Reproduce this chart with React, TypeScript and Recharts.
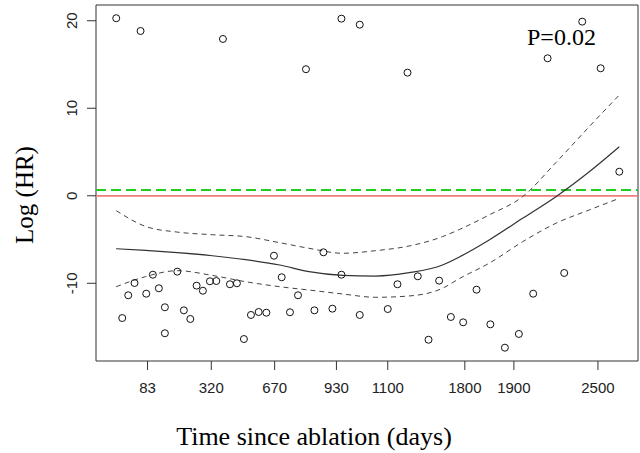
import {
  ComposedChart,
  Line,
  ReferenceArea,
  ReferenceLine,
  Scatter,
  XAxis,
  YAxis,
} from 'recharts';

// x is the transformed time scale (0-100), ticks labelled in days
const tickPos = [9.51, 21.27, 32.96, 44.36, 53.83, 68.05, 77.1, 92.61];
const tickLabels = ['83', '320', '670', '930', '1100', '1800', '1900', '2500'];
const yTicks = [-10, 0, 10, 20];

const residX = [
  3.73, 4.84, 5.95, 7.11, 8.22, 9.27, 10.49, 11.6, 12.71, 12.71, 15.0, 16.21, 17.4, 18.56,
  19.72, 21.02, 22.2, 23.42, 24.71, 26.0, 27.29, 28.59, 30.01, 31.43, 32.83, 34.26, 35.79,
  37.27, 38.74, 40.3, 41.96, 43.62, 45.28, 45.28, 48.66, 48.66, 53.83, 55.62, 57.47, 59.37,
  61.35, 63.31, 65.47, 67.74, 70.21, 72.76, 75.44, 78.02, 80.66, 83.32, 86.39, 89.71, 93.11,
  96.55,
];
const residY = [
  20.29, -13.97, -11.37, -9.97, 18.83, -11.19, -9.02, -10.57, -12.74, -15.71, -8.67, -13.09,
  -14.08, -10.27, -10.85, -9.77, -9.74, 17.92, -10.11, -10.0, -16.37, -13.62, -13.28, -13.36,
  -6.85, -9.31, -13.31, -11.37, 14.46, -13.09, -6.46, -12.9, 20.24, -9.02, 19.55, -13.62,
  -12.94, -10.11, 14.07, -9.2, -16.45, -9.7, -13.85, -14.46, -10.73, -14.69, -17.36, -15.79,
  -11.19, 15.71, -8.82, 19.9, 14.57, 2.75,
];

const curveX = [
  3.73, 9.14, 15.0, 21.46, 27.61, 33.89, 39.3, 45.47, 51.62, 57.77, 63.93, 67.13, 72.54, 78.71,
  84.86, 91.01, 96.55,
];
const fitY = [
  -6.05, -6.25, -6.5, -6.85, -7.3, -7.91, -8.67, -9.09, -9.17, -8.79, -7.91, -6.96, -5.05, -2.57,
  -0.1, 2.75, 5.61,
];
const upperY = [
  -1.7, -3.5, -4.15, -4.45, -4.67, -5.36, -6.0, -6.57, -6.27, -5.74, -4.67, -3.83, -2.19, -0.1,
  3.8, 7.9, 11.52,
];
const lowerY = [
  -10.39, -9.24, -8.56, -9.1, -9.82, -10.39, -10.77, -11.22, -11.6, -11.45, -10.57, -9.43, -7.71,
  -5.25, -3.14, -1.62, -0.29,
];

const refLineY = 0;
const avgLineY = 0.66;
const xDomain: [number, number] = [0, 100];
const yDomain: [number, number] = [-18.88, 21.8];

const residData = residX.map((x, i) => ({ x, y: residY[i] }));
const curveData = curveX.map((x, i) => ({ x, fit: fitY[i], upper: upperY[i], lower: lowerY[i] }));

const SANS = '"Liberation Sans", Arial, sans-serif';
const SERIF = '"Liberation Serif", "Times New Roman", serif';

function XTick({ x, y, payload }: any) {
  const i = tickPos.indexOf(payload.value);
  return (
    <text x={x} y={y + 23} textAnchor="middle" fontFamily={SANS} fontSize={15} fill="#222">
      {i >= 0 ? tickLabels[i] : payload.value}
    </text>
  );
}

function YTick({ x, y, payload }: any) {
  return (
    <text
      x={x}
      y={y}
      transform={`rotate(-90 ${x} ${y})`}
      textAnchor="middle"
      fontFamily={SANS}
      fontSize={15}
      fill="#222"
    >
      {payload.value}
    </text>
  );
}

function Ring({ cx, cy }: any) {
  return <circle cx={cx} cy={cy} r={3.5} fill="none" stroke="#111" strokeWidth={1} />;
}

export default function App() {
  return (
    <div style={{ position: 'absolute', left: 0, top: 0, width: 640, height: 453, background: '#fff' }}>
      <ComposedChart width={640} height={453} margin={{ top: 5, right: 2, left: 0, bottom: 0 }}>
        <XAxis
          dataKey="x"
          type="number"
          domain={xDomain}
          ticks={tickPos}
          tick={<XTick />}
          tickSize={9}
          tickMargin={0}
          height={92}
          axisLine={false}
          tickLine={{ stroke: '#333' }}
          allowDataOverflow
        />
        <YAxis
          type="number"
          domain={yDomain}
          ticks={yTicks}
          tick={<YTick />}
          tickSize={9}
          tickMargin={10}
          width={96}
          axisLine={false}
          tickLine={{ stroke: '#333' }}
          allowDataOverflow
        />
        <ReferenceArea
          x1={xDomain[0]}
          x2={xDomain[1]}
          y1={yDomain[0]}
          y2={yDomain[1]}
          fill="none"
          stroke="#333"
          strokeWidth={1}
        />
        <ReferenceLine y={refLineY} stroke="#f27c7c" strokeWidth={1.8} />
        <ReferenceLine y={avgLineY} stroke="#22cc22" strokeWidth={2} strokeDasharray="10 5" />
        <Line
          data={curveData}
          dataKey="upper"
          type="monotone"
          stroke="#444"
          strokeDasharray="5 4"
          strokeWidth={1}
          dot={false}
          isAnimationActive={false}
        />
        <Line
          data={curveData}
          dataKey="lower"
          type="monotone"
          stroke="#444"
          strokeDasharray="5 4"
          strokeWidth={1}
          dot={false}
          isAnimationActive={false}
        />
        <Line
          data={curveData}
          dataKey="fit"
          type="monotone"
          stroke="#333"
          strokeWidth={1.2}
          dot={false}
          isAnimationActive={false}
        />
        <Scatter data={residData} dataKey="y" shape={<Ring />} isAnimationActive={false} />
      </ComposedChart>
      <svg
        width={640}
        height={453}
        style={{ position: 'absolute', left: 0, top: 0, pointerEvents: 'none' }}
      >
        <text x={527} y={45} fontFamily={SERIF} fontSize={24} fill="#000">
          P=0.02
        </text>
        <text x={314} y={445} textAnchor="middle" fontFamily={SERIF} fontSize={26} fill="#000">
          Time since ablation (days)
        </text>
        <text
          x={33}
          y={195}
          transform="rotate(-90 33 195)"
          textAnchor="middle"
          fontFamily={SERIF}
          fontSize={25}
          fill="#000"
        >
          Log (HR)
        </text>
      </svg>
    </div>
  );
}
